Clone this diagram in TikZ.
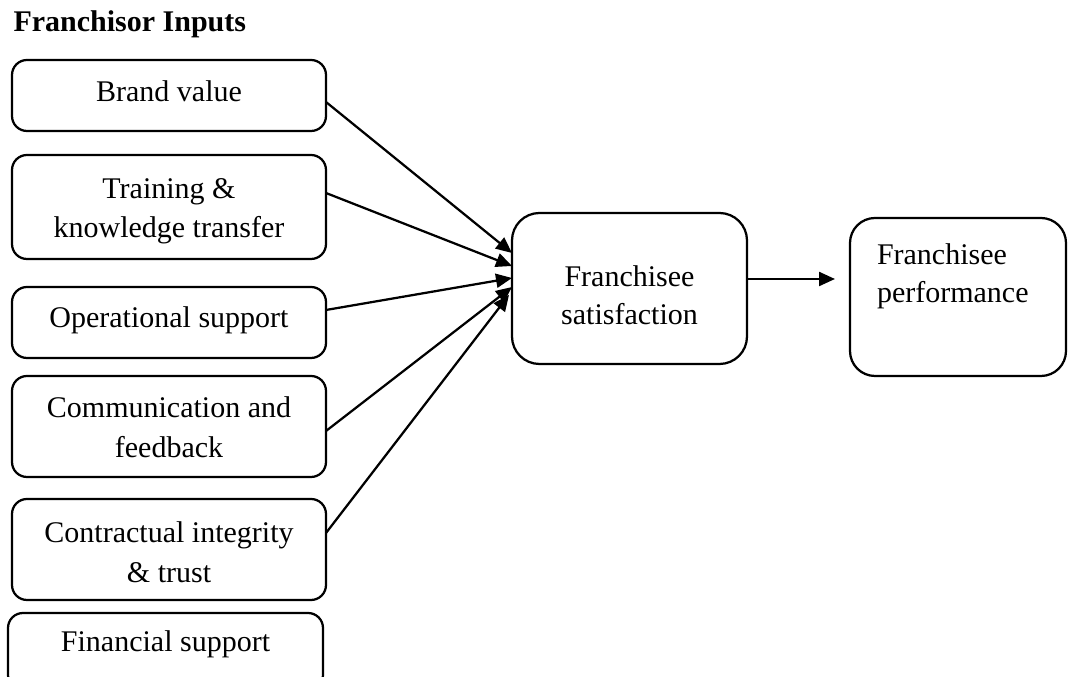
\documentclass[tikz,border=0pt]{standalone}
\usepackage{fontspec}
\setmainfont{Liberation Serif}
\usetikzlibrary{calc,arrows.meta}
\begin{document}
\begin{tikzpicture}[x=0.4pt,y=-0.4pt,
  inbox/.style={draw, line width=0.9pt, rounded corners=6pt, minimum width=125.6pt, inner sep=0pt, outer sep=0pt},
  bigbox/.style={draw, line width=0.9pt, rounded corners=11pt, inner sep=0pt, outer sep=0pt},
  lbl/.style={inner sep=0pt, outer sep=0pt, align=center},
  arr/.style={line width=0.9pt, -{Triangle[length=6.4pt,width=5.6pt]}}]
\useasboundingbox (0,0) rectangle (1068,677);
\clip (0,0) rectangle (1068,677);
% title
\node[anchor=base west, inner sep=0pt, font=\fontsize{12pt}{14pt}\selectfont\bfseries] (title) at (13,32) {Franchisor Inputs};
% input boxes
\node[inbox, minimum height=28.4pt] (brand) at (169,95.5) {};
\node[inbox, minimum height=41.6pt] (train) at (169,207) {};
\node[inbox, minimum height=28.4pt] (oper) at (169,322.5) {};
\node[inbox, minimum height=40.4pt] (comm) at (169,426.5) {};
\node[inbox, minimum height=40.4pt] (contr) at (169,549.5) {};
\node[inbox, minimum width=126pt, minimum height=30.8pt] (fin) at (165.5,651.5) {};
% labels
\node[lbl, anchor=base, font=\fontsize{12pt}{14pt}\selectfont] (brandt) at (169,102) {Brand value};
\node[lbl, font=\fontsize{12pt}{15.6pt}\selectfont] (traint) at (169,210.8) {Training \&\\knowledge transfer};
\node[lbl, anchor=base, font=\fontsize{12pt}{14pt}\selectfont] (opert) at (169,328) {Operational support};
\node[lbl, font=\fontsize{12pt}{16pt}\selectfont] (commt) at (169,427.7) {Communication and\\feedback};
\node[lbl, font=\fontsize{12pt}{16pt}\selectfont] (contrt) at (169,551.8) {Contractual integrity\\\& trust};
\node[lbl, anchor=base, font=\fontsize{12pt}{14pt}\selectfont] (fint) at (165.5,652) {Financial support};
% outcome boxes
\node[bigbox, minimum width=94pt, minimum height=60.4pt] (sat) at (629.5,288.5) {};
\node[lbl, font=\fontsize{12pt}{15.2pt}\selectfont] (satt) at (629.5,295.7) {Franchisee\\satisfaction};
\node[bigbox, rounded corners=10pt, minimum width=86.4pt, minimum height=63.2pt] (perf) at (958,297) {};
\node[lbl, align=left, anchor=north west, font=\fontsize{12pt}{15.2pt}\selectfont] (perft) at (877,243.5) {Franchisee\\performance};
% connectors
\draw[arr] ($(brand.east)+(0,6.5)$) -- ($(sat.west)+(0,-35.5)$);
\draw[arr] ($(train.east)+(0,-14)$) -- ($(sat.west)+(0,-22.5)$);
\draw[arr] ($(oper.east)+(0,-12.5)$) -- ($(sat.west)+(0,-10.5)$);
\draw[arr] ($(comm.east)+(0,4.5)$) -- ($(sat.west)+(0,-1.5)$);
\draw[arr] ($(contr.east)+(0,-16.5)$) -- ($(sat.west)+(-3,6.5)$);
\draw[arr, shorten >=6pt] ($(sat.east)+(0,-9.5)$) coordinate (s) -- (perf.west |- s);
\end{tikzpicture}
\end{document}
